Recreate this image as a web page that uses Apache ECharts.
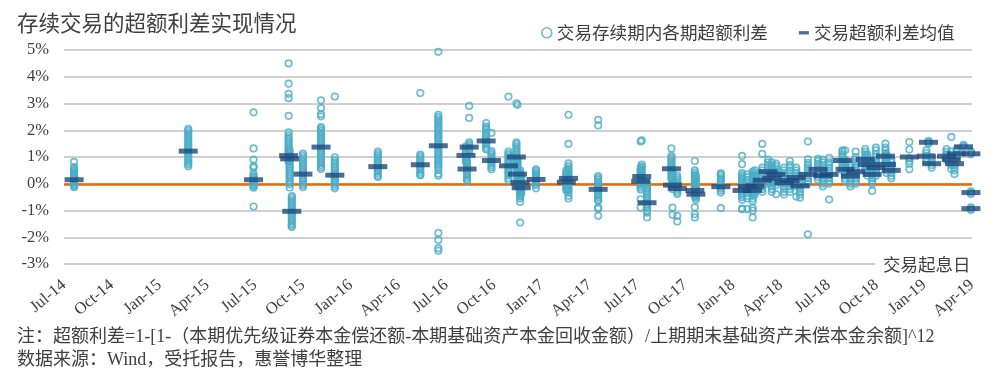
<!DOCTYPE html>
<html>
<head>
<meta charset="utf-8">
<script src="https://cdn.jsdelivr.net/npm/echarts@6/dist/echarts.min.js"></script>
<style>
html,body{margin:0;padding:0;background:#fff;}
#chart{width:1006px;height:383px;}
</style>
</head>
<body>
<div id="chart"></div>
<script>
// ---- data ----
const titleText = '存续交易的超额利差实现情况';
const seriesNames = ['交易存续期内各期超额利差', '交易超额利差均值'];
const xAxisName = '交易起息日';
const tickLabels = ['Jul-14','Oct-14','Jan-15','Apr-15','Jul-15','Oct-15','Jan-16','Apr-16','Jul-16','Oct-16',
  'Jan-17','Apr-17','Jul-17','Oct-17','Jan-18','Apr-18','Jul-18','Oct-18','Jan-19','Apr-19'];
const noteLines = [
  '注：超额利差=1-[1-（本期优先级证券本金偿还额-本期基础资产本金回收金额）/上期期末基础资产未偿本金余额]^12',
  '数据来源：Wind，受托报告，惠誉博华整理'
];

// deal start dates (交易起息日)
const dealDates = [
  '2014-07-20','2015-02-25','2015-06-28','2015-09-04','2015-09-06','2015-09-10','2015-10-01','2015-11-05','2015-12-01',
  '2016-02-22','2016-05-12','2016-06-16','2016-08-14','2016-08-08','2016-08-10','2016-09-16','2016-09-26','2016-10-28',
  '2016-11-13','2016-11-15','2016-11-20','2016-11-22','2016-12-20','2017-02-21','2017-02-17','2017-04-17',
  '2017-07-09','2017-07-07','2017-07-19','2017-09-05','2017-09-07','2017-09-16','2017-10-19','2017-10-21','2017-12-08',
  '2018-01-18','2018-02-08','2018-02-12','2018-02-26','2018-03-07','2018-03-22','2018-04-07','2018-04-30','2018-05-07',
  '2018-05-22','2018-06-11','2018-07-02','2018-07-27','2018-08-02','2018-08-12','2018-09-10','2018-09-14','2018-09-23',
  '2018-10-18','2018-10-20','2018-10-29','2018-12-03','2019-01-09','2019-01-05','2019-01-15','2019-02-13','2019-02-22',
  '2019-02-28','2019-03-15','2019-03-02','2019-03-29','2019-03-29','2019-03-29',
  '2018-01-28','2018-03-14','2018-04-18','2018-06-20','2018-08-22','2018-09-30'
];

// mean excess spread per deal (%)
const dealMeans = [
  0.15,1.22,0.15,1.05,0.93,-1.03,0.36,1.37,0.32,
  0.64,0.71,1.42,1.37,1.06,0.55,1.6,0.87,0.67,
  1.0,0.36,0.04,-0.15,0.16,0.2,0.06,-0.21,
  0.27,0.09,-0.71,0.56,-0.05,-0.18,-0.25,-0.39,-0.11,
  -0.25,-0.25,-0.08,0.13,0.45,0.35,0.04,0.23,-0.08,
  0.35,0.54,0.35,0.87,0.54,0.29,0.91,0.72,0.35,
  1.03,0.72,0.5,1.0,1.55,1.03,0.75,1.03,0.91,
  0.75,1.38,1.12,1.12,-0.33,-0.93,
  -0.1,0.2,0.12,0.3,0.45,0.6
];

// excess spread of each period during deal life (%)
const dealPeriods = [
  [0.82,0.62,0.55,0.5,0.45,0.4,0.35,0.3,0.25,0.2,0.15,0.1,0.05,0,-0.05,-0.1,-0.13],
  [2.05,1.98,1.9,1.82,1.75,1.68,1.6,1.52,1.45,1.38,1.3,1.22,1.15,1.08,1.0,0.92,0.85,0.78,0.72,0.65],
  [2.67,1.32,0.9,0.66,0.6,0.38,0.3,0.25,0.2,0.15,0.1,0.05,0,-0.05,-0.1,-0.15,-0.85],
  [4.5,3.74,3.36,3.2,2.54,1.92,1.8,1.72,1.65,1.58,1.5,1.42,1.35,1.28,1.2,1.12,1.05,0.98,0.9,0.82],
  [1.25,1.15,1.05,0.95,0.88,0.8,0.72,0.65,0.58,0.5,0.42,0.35,0.28,0.2,0.12,0.05,-0.02,-0.14],
  [-0.46,-0.52,-0.6,-0.68,-0.75,-0.82,-0.9,-0.98,-1.05,-1.12,-1.2,-1.28,-1.35,-1.42,-1.5,-1.56,-1.62],
  [1.13,1.06,0.98,0.9,0.82,0.75,0.68,0.6,0.52,0.45,0.38,0.3,0.22,0.15,0.08,0.0,-0.06,-0.13],
  [3.12,2.83,2.6,2.52,2.12,2.05,1.98,1.9,1.82,1.75,1.68,1.6,1.52,1.45,1.38,1.3,1.22,1.15,1.08,1.0,0.92,0.85,0.78,0.7,0.62,0.55],
  [3.26,0.99,0.88,0.8,0.72,0.65,0.58,0.5,0.42,0.35,0.28,0.2,0.12,0.05,-0.02,-0.1,-0.17],
  [1.2,1.12,1.05,0.98,0.9,0.82,0.75,0.68,0.6,0.52,0.45,0.38,0.3,0.25],
  [3.39,1.09,1.02,0.95,0.88,0.8,0.72,0.65,0.58,0.5,0.42,0.35,0.32],
  [4.93,2.58,2.5,2.42,2.35,2.28,2.2,2.12,2.05,1.98,1.9,1.82,1.75,1.68,1.6,1.52,1.45,1.38,1.3,1.22,1.15,1.08,1.0,0.92,0.85,0.78,0.7,0.62,0.52,0.37,0.3,-1.84,-2.1,-2.41,-2.5],
  [2.91,2.46,1.55,1.48,1.42,1.35,1.28,1.2],
  [1.4,1.32,1.25,1.18,1.1,1.02,0.95,0.88,0.8],
  [0.9,0.82,0.75,0.68,0.6,0.52,0.45,0.38,0.3,0.22,0.15,0.1],
  [2.27,2.15,2.08,2.0,1.92,1.85,1.78,1.7,1.62,1.55,1.48,1.4,1.32,1.28],
  [1.9,1.22,1.15,1.08,1.0,0.92,0.85,0.78,0.7,0.62,0.54],
  [3.26,1.2,1.12,1.05,0.98,0.9,0.82,0.75,0.68,0.6,0.52,0.45,0.38,0.3,0.2,0.12],
  [3.01,1.55,1.48,1.4,1.32,1.25,1.18,1.1,1.02,0.95,0.88,0.8,0.72,0.65,0.58],
  [2.95,0.9,0.82,0.75,0.68,0.6,0.52,0.45,0.38,0.3,0.22,0.15,0.08,0.0,-0.08],
  [0.5,0.42,0.35,0.28,0.2,0.12,0.05,-0.02,-0.1,-0.18,-0.25,-0.32,-0.4,-0.48,-0.55,-0.68,-1.45],
  [0.3,0.22,0.15,0.08,0.0,-0.08,-0.15,-0.22,-0.3,-0.38],
  [0.54,0.48,0.42,0.36,0.3,0.24,0.18,0.12,0.06,0.0,-0.06,-0.17],
  [2.58,1.49,0.76,0.66,0.58,0.5,0.42,0.35,0.28,0.2,0.12,0.05,-0.02,-0.1,-0.18,-0.25,-0.33,-0.45,-0.55],
  [0.5,0.42,0.35,0.28,0.2,0.12,0.05,-0.02,-0.1,-0.18,-0.25],
  [2.39,2.18,0.29,0.22,0.15,0.08,0.0,-0.08,-0.15,-0.22,-0.3,-0.38,-0.45,-0.52,-0.6,-0.64,-0.89,-0.93,-1.2],
  [1.62,0.72,0.65,0.58,0.5,0.42,0.35,0.28,0.2,0.12,0.05,-0.02],
  [1.58,0.6,0.52,0.45,0.38,0.3,0.22,0.15,0.08,0.0,-0.08,-0.15,-0.22,-0.58,-0.89],
  [0.05,-0.02,-0.1,-0.18,-0.25,-0.32,-0.4,-0.48,-0.55,-0.62,-0.7,-0.78,-0.85,-0.92,-1.0,-1.08,-1.26],
  [1.32,1.04,0.98,0.92,0.85,0.78,0.7,0.62,0.55,0.48,0.4,0.32,0.25,0.18],
  [0.4,0.32,0.25,0.18,0.1,0.02,-0.05,-0.12,-0.2,-0.89,-1.16],
  [0.3,0.22,0.15,0.08,0.0,-0.08,-0.15,-0.22,-0.3,-0.38,-1.2,-1.41],
  [0.85,0.5,0.42,0.35,0.28,0.2,0.12,0.05,-0.02,-0.1,-0.18,-0.25,-0.32,-0.4,-0.48,-0.88,-1.14,-1.26],
  [0.3,0.22,0.15,0.08,0.0,-0.08,-0.15,-0.22,-0.3,-0.38,-0.45,-0.52,-0.6],
  [0.39,0.35,0.28,0.2,0.12,0.05,-0.02,-0.1,-0.18,-0.25,-0.33,-0.91],
  [1.04,0.73,0.4,0.32,0.25,0.18,0.1,0.02,-0.05,-0.12,-0.2,-0.28,-0.35,-0.42,-0.5,-0.6,-0.93,-0.95],
  [0.45,0.35,0.25,0.15,0.05,-0.05,-0.15,-0.25,-0.35,-0.45,-0.55,-0.65,-0.9,-1.0,-1.26],
  [0.5,0.4,0.3,0.2,0.1,0.0,-0.1,-0.2,-0.3,-0.4],
  [1.49,1.12,0.6,0.5,0.4,0.3,0.2,0.1,0.0,-0.1,-0.2,-0.3],
  [0.9,0.8,0.7,0.6,0.5,0.4,0.3,0.2,0.1,0.0],
  [0.75,0.65,0.55,0.45,0.35,0.25,0.15,0.05,-0.05,-0.39],
  [0.6,0.5,0.4,0.3,0.2,0.1,0.0,-0.1,-0.2,-0.3,-0.4],
  [0.6,0.5,0.4,0.3,0.2,0.1,0.0,-0.1,-0.48],
  [0.3,0.2,0.1,0.0,-0.1,-0.2,-0.3,-0.4,-0.52],
  [1.58,0.91,0.78,0.7,0.6,0.5,0.4,0.3,0.2,0.1,0.0,-1.89],
  [0.93,0.85,0.75,0.65,0.55,0.45,0.35,0.25,0.15],
  [0.97,0.8,0.7,0.6,0.5,0.4,0.3,0.2,0.1,0.0,-0.59],
  [1.25,1.2,1.1,1.0,0.9,0.8,0.7,0.6,0.5],
  [1.25,0.9,0.8,0.7,0.6,0.5,0.4,0.3,0.2,0.1],
  [0.7,0.6,0.5,0.4,0.3,0.2,0.1,0.0,-0.1],
  [1.3,1.2,1.1,1.0,0.9,0.8,0.7,0.6,0.5],
  [1.1,1.0,0.9,0.8,0.7,0.6,0.5,0.4,0.3],
  [0.8,0.7,0.6,0.5,0.4,0.3,0.2,0.1,0.0,-0.27],
  [1.5,1.35,1.25,1.15,1.05,0.95,0.85,0.75],
  [1.1,1.0,0.9,0.8,0.7,0.6,0.5,0.4],
  [0.9,0.8,0.7,0.6,0.5,0.4,0.3,0.2],
  [1.56,1.28,0.95,0.85,0.75,0.54],
  [1.6,1.55,1.5],
  [1.25,1.15,1.05,0.95,0.85],
  [1.0,0.9,0.8,0.7,0.6],
  [1.3,1.2,1.1,1.0,0.9],
  [1.75,1.2,1.0,0.85,0.7,0.55],
  [0.9,0.8,0.7,0.6,0.5,0.36],
  [1.45,1.4,1.35],
  [1.3,1.2,1.1,1.0],
  [1.2,1.15,1.1],
  [-0.28,-0.33,-0.38],
  [-0.88,-0.93,-0.98],
  [0.35,0.25,0.15,0.05,-0.05,-0.15,-0.25,-0.35,-0.45,-0.55,-0.95],
  [0.8,0.7,0.6,0.5,0.4,0.3,0.2,0.1,0.0,-0.1,-0.2,-0.3],
  [0.85,0.7,0.6,0.5,0.4,0.3,0.2,0.1,0.0,-0.1,-0.2,-0.3],
  [0.9,0.8,0.7,0.6,0.5,0.4,0.3,0.2,0.1,0.0,-0.1],
  [1.2,1.0,0.9,0.8,0.7,0.6,0.5,0.4,0.3,0.2,0.1,0.0],
  [1.35,1.25,1.1,1.0,0.9,0.8,0.7,0.6,0.5,0.4,0.3]
];

// ---- build ----
function monthIndex(s) {            // months since Jan 2014
  const p = s.split('-').map(Number);
  return (p[0] - 2014) * 12 + (p[1] - 1) + (p[2] - 1) / 30;
}
const periodData = [];
dealDates.forEach((d, i) => {
  const x = monthIndex(d);
  dealPeriods[i].forEach(v => periodData.push([x, v]));
});
const meanData = dealDates.map((d, i) => [monthIndex(d), dealMeans[i]]);

const textColor = '#404040';
const serif = "'Liberation Serif', 'Times New Roman', 'Noto Sans CJK SC', serif";
const cjk = "'Noto Sans CJK SC', 'Noto Sans', sans-serif";

const chart = echarts.init(document.getElementById('chart'), null, {renderer: 'canvas'});
chart.setOption({
  animation: false,
  backgroundColor: '#fff',
  title: {
    text: titleText, left: 12, top: 7,
    textStyle: {fontFamily: cjk, fontSize: 21.5, fontWeight: 'normal', color: textColor}
  },
  legend: {
    left: 536, top: 19, itemGap: 31, itemWidth: 10, itemHeight: 10,
    textStyle: {fontFamily: cjk, fontSize: 17.6, color: textColor},
    data: [
      {name: seriesNames[0], icon: 'circle',
       itemStyle: {color: 'rgba(0,0,0,0)', borderColor: '#4BACC6', borderWidth: 1.6}},
      {name: seriesNames[1], icon: 'path://M0,0L12,0L12,4L0,4Z'}
    ]
  },
  grid: {left: 64, right: 34, top: 50, bottom: 119, containLabel: false},
  xAxis: {
    type: 'value', min: 6, max: 63, interval: 3, z: 5,
    name: xAxisName, nameLocation: 'end', nameGap: -97,
    nameTextStyle: {fontFamily: cjk, fontSize: 17.5, color: textColor, backgroundColor: '#fff',
      padding: [2, 4, 2, 8], verticalAlign: 'middle', align: 'left'},
    axisLine: {show: false, onZero: false}, axisTick: {show: false}, splitLine: {show: false},
    axisLabel: {
      rotate: 40, margin: 19, fontFamily: serif, fontSize: 16.5, color: textColor,
      formatter: v => tickLabels[Math.round((v - 6) / 3)] || ''
    }
  },
  yAxis: {
    type: 'value', min: -3, max: 5, interval: 1,
    axisLine: {show: false}, axisTick: {show: false},
    splitLine: {lineStyle: {color: '#BFBFBF', width: 1.5}},
    axisLabel: {fontFamily: serif, fontSize: 16.5, color: textColor, margin: 15,
      formatter: v => v + '%'}
  },
  series: [
    {
      name: seriesNames[0], type: 'scatter', data: periodData, z: 2,
      symbol: 'circle', symbolSize: 6.5,
      itemStyle: {color: 'rgba(0,0,0,0)', borderColor: '#4BACC6', borderWidth: 1.7},
      markLine: {
        silent: true, symbol: 'none', label: {show: false}, z: 1,
        lineStyle: {color: '#E46C0A', width: 2.5, type: 'solid'},
        data: [{yAxis: 0}]
      }
    },
    {
      name: seriesNames[1], type: 'scatter', data: meanData, z: 3,
      symbol: 'rect', symbolSize: [19, 5],
      itemStyle: {color: '#1F497D'}
    }
  ],
  graphic: [
    {type: 'text', left: 17, top: 328, style: {text: noteLines[0], font: "18px " + serif, fill: textColor}},
    {type: 'text', left: 17, top: 351, style: {text: noteLines[1], font: "18px " + serif, fill: textColor}}
  ]
});
</script>
</body>
</html>
